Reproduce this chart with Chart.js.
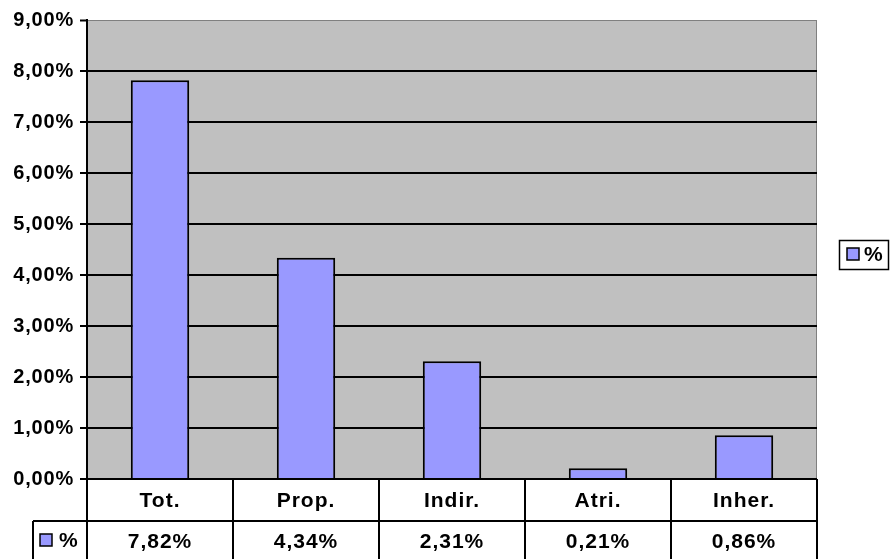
<!DOCTYPE html>
<html>
<head>
<meta charset="utf-8">
<script src="https://cdn.jsdelivr.net/npm/chart.js@4"></script>
<style>
  html, body { margin: 0; padding: 0; background: #fff; }
  #wrap { width: 892px; height: 559px; }
</style>
</head>
<body>
<div id="wrap"><canvas id="chart" width="892" height="559"></canvas></div>
<script>
const categories = ['Tot.', 'Prop.', 'Indir.', 'Atri.', 'Inher.']
const seriesName = '%'
const values = [7.82, 4.34, 2.31, 0.21, 0.86]
const yTicks = [0, 1, 2, 3, 4, 5, 6, 7, 8, 9]

const FAMILY = '"Liberation Sans", Arial, sans-serif'
const FONT = 'bold 21px ' + FAMILY
const BAR = '#9999FF'

const fmt = (v) => v.toFixed(2).replace('.', ',') + '%'

// grey plot background, data table and legend box
const excelLook = {
  id: 'excelLook',
  beforeDraw (chart) {
    const { ctx, chartArea: a } = chart
    ctx.letterSpacing = '0.8px'
    ctx.save()
    ctx.fillStyle = '#C0C0C0'
    ctx.fillRect(a.left, a.top, a.right - a.left, a.bottom - a.top)
    ctx.strokeStyle = '#808080'
    ctx.lineWidth = 1
    ctx.strokeRect(a.left + 0.5, a.top + 0.5, a.right - a.left - 1, a.bottom - a.top)
    ctx.restore()
  },
  afterDraw (chart) {
    const { ctx, chartArea: a, scales: { x } } = chart
    const rowH = 42
    const r1 = a.bottom
    const r2 = r1 + rowH
    const r3 = chart.height
    const keyLeft = 33
    ctx.save()
    ctx.letterSpacing = '1px'
    ctx.strokeStyle = '#000'
    ctx.lineWidth = 2
    ctx.beginPath()
    // horizontal lines
    ctx.moveTo(a.left, r1); ctx.lineTo(a.right, r1)
    ctx.moveTo(keyLeft, r2); ctx.lineTo(a.right, r2)
    // vertical lines
    const half = (x.getPixelForValue(1) - x.getPixelForValue(0)) / 2
    ctx.moveTo(keyLeft, r2); ctx.lineTo(keyLeft, r3)
    categories.forEach((c, i) => {
      const xl = x.getPixelForValue(i) - half
      ctx.moveTo(xl, r1); ctx.lineTo(xl, r3)
    })
    ctx.moveTo(a.right, r1); ctx.lineTo(a.right, r3)
    ctx.stroke()

    ctx.font = FONT
    ctx.fillStyle = '#000'
    ctx.textAlign = 'center'
    ctx.textBaseline = 'middle'
    categories.forEach((c, i) => {
      const cx = x.getPixelForValue(i)
      ctx.fillText(c, cx, r1 + rowH / 2 + 1)
      ctx.fillText(fmt(values[i]), cx, r2 + (r3 - r2) / 2 + 2)
    })

    // legend key (small square with the series name)
    const drawKey = (kx, ky) => {
      ctx.fillStyle = BAR
      ctx.fillRect(kx, ky, 12, 12)
      ctx.lineWidth = 1.5
      ctx.strokeStyle = '#000'
      ctx.strokeRect(kx, ky, 12, 12)
    }
    drawKey(40, r2 + 13)
    ctx.fillStyle = '#000'
    ctx.textAlign = 'left'
    ctx.fillText(seriesName, 59, r2 + 20)

    // legend box on the right
    ctx.lineWidth = 1.5
    ctx.strokeStyle = '#000'
    ctx.strokeRect(839.5, 240.5, 49, 29)
    drawKey(847, 248)
    ctx.fillStyle = '#000'
    ctx.fillText(seriesName, 864, 255)
    ctx.restore()
  }
}

new Chart(document.getElementById('chart'), {
  type: 'bar',
  data: {
    labels: categories,
    datasets: [{
      label: seriesName,
      data: values,
      backgroundColor: BAR,
      borderColor: '#000',
      borderWidth: 2,
      borderSkipped: 'bottom',
      categoryPercentage: 1,
      barPercentage: 0.4
    }]
  },
  options: {
    responsive: false,
    animation: false,
    layout: { padding: { top: 20, right: 75, bottom: 80, left: 0 } },
    plugins: { legend: { display: false }, tooltip: { enabled: false } },
    scales: {
      x: { display: false, offset: true },
      y: {
        min: 0,
        max: 9,
        afterBuildTicks (axis) { axis.ticks = yTicks.map(v => ({ value: v })) },
        afterFit (axis) { axis.width = 87 },
        ticks: {
          font: { family: FAMILY, size: 20, weight: 'bold' },
          color: '#000',
          padding: 6,
          callback: (v) => fmt(v)
        },
        grid: {
          color: (c) => c.tick && c.tick.value === 9 ? '#808080' : '#000',
          lineWidth: (c) => c.tick && c.tick.value === 9 ? 1 : 2,
          tickColor: '#000',
          tickWidth: 2,
          tickLength: 7
        },
        border: { display: true, color: '#000', width: 2 }
      }
    }
  },
  plugins: [excelLook]
})
</script>
</body>
</html>
